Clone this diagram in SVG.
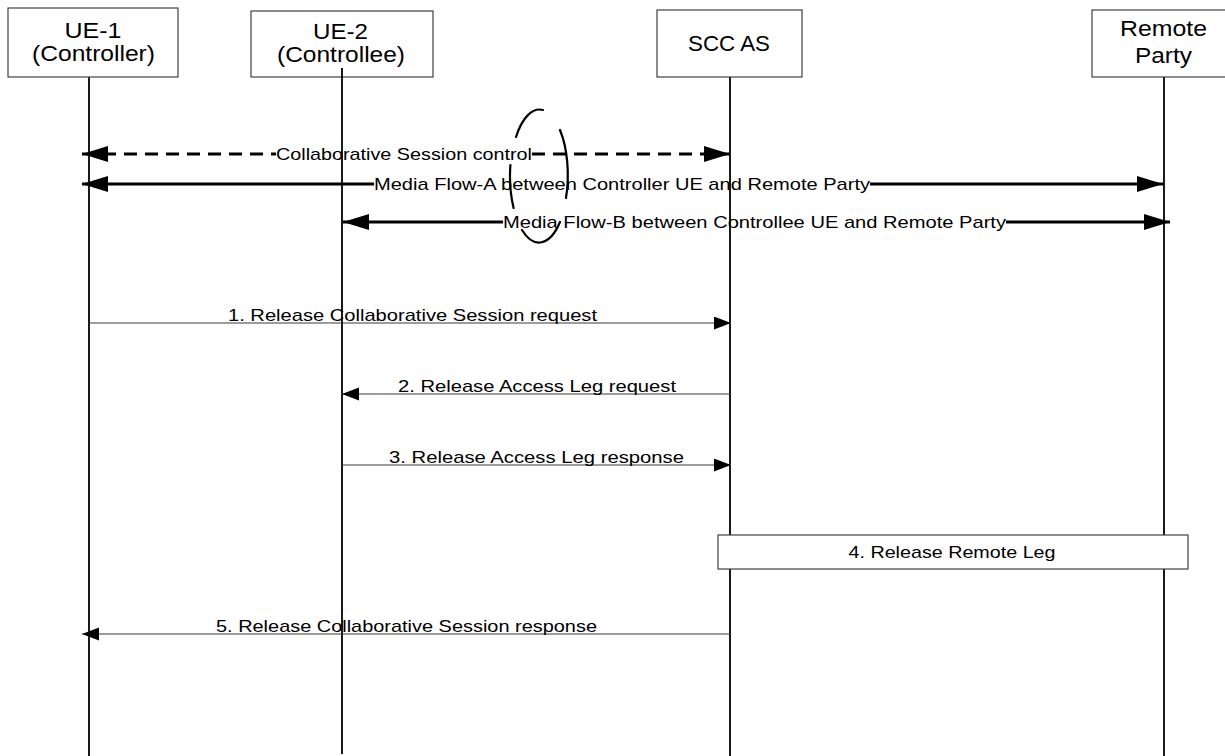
<svg xmlns="http://www.w3.org/2000/svg" width="1225" height="756" viewBox="0 0 1225 756">
  <style>
    .box { fill: #ffffff; stroke: #404040; stroke-width: 1.2; }
    .life { stroke: #000000; stroke-width: 1.8; fill: none; }
    .hdr { font-family: "Liberation Sans", Arial, sans-serif; font-size: 22px; fill: #000; text-anchor: middle; }
    .lbl { font-family: "Liberation Sans", Arial, sans-serif; font-size: 17px; fill: #000; text-anchor: middle; }
    .thick { stroke: #000; stroke-width: 3; fill: none; }
    .dash { stroke: #000; stroke-width: 3; fill: none; stroke-dasharray: 13 8; }
    .thin { stroke: #3a3a3a; stroke-width: 1.2; fill: none; }
    .arc { stroke: #000; stroke-width: 2.2; fill: none; stroke-linecap: round; }
  </style>
  <defs>
    <marker id="big" markerUnits="userSpaceOnUse" markerWidth="28" markerHeight="18" refX="26" refY="8" orient="auto-start-reverse">
      <path d="M0,0 L26,8 L0,16 z" fill="#000"/>
    </marker>
    <marker id="small" markerUnits="userSpaceOnUse" markerWidth="18" markerHeight="14" refX="17" refY="6.5" orient="auto-start-reverse">
      <path d="M0,0 L17,6.5 L0,13 z" fill="#000"/>
    </marker>
  </defs>
  <rect width="1225" height="756" fill="#ffffff"/>

  <g id="lifelines">
    <line class="life" x1="89" y1="77" x2="89" y2="756"/>
    <line class="life" x1="342" y1="68" x2="342" y2="754"/>
    <line class="life" x1="730" y1="77" x2="730" y2="756"/>
    <line class="life" x1="1164" y1="77" x2="1164" y2="756"/>
  </g>

  <g id="ue1">
    <rect class="box" x="8" y="8" width="170" height="69"/>
    <text class="hdr" x="93" y="38" textLength="57" lengthAdjust="spacingAndGlyphs">UE-1</text>
    <text class="hdr" x="93.5" y="61" textLength="123" lengthAdjust="spacingAndGlyphs">(Controller)</text>
  </g>
  <g id="ue2">
    <rect class="box" x="251" y="11" width="182" height="66"/>
    <text class="hdr" x="340.5" y="39" textLength="55" lengthAdjust="spacingAndGlyphs">UE-2</text>
    <text class="hdr" x="341" y="62" textLength="128" lengthAdjust="spacingAndGlyphs">(Controllee)</text>
    <line class="life" x1="342" y1="68" x2="342" y2="78"/>
  </g>
  <g id="sccas">
    <rect class="box" x="657" y="10" width="145" height="67"/>
    <text class="hdr" x="729" y="51" textLength="82" lengthAdjust="spacingAndGlyphs">SCC AS</text>
  </g>
  <g id="remote">
    <rect class="box" x="1092" y="10" width="144" height="67"/>
    <text class="hdr" x="1163.5" y="36" textLength="87" lengthAdjust="spacingAndGlyphs">Remote</text>
    <text class="hdr" x="1163.5" y="63" textLength="57" lengthAdjust="spacingAndGlyphs">Party</text>
  </g>

  <g id="connectors">
    <line class="dash" x1="82" y1="154" x2="276" y2="154" marker-start="url(#big)"/>
    <line class="dash" x1="532" y1="154" x2="730" y2="154" marker-end="url(#big)"/>
    <line class="thick" x1="82" y1="184" x2="374" y2="184" marker-start="url(#big)"/>
    <line class="thick" x1="870" y1="184" x2="1163" y2="184" marker-end="url(#big)"/>
    <line class="thick" x1="343" y1="222" x2="503" y2="222" marker-start="url(#big)"/>
    <line class="thick" x1="1006" y1="222" x2="1170" y2="222" marker-end="url(#big)"/>
    <line class="thin" x1="89" y1="323" x2="731" y2="323" marker-end="url(#small)"/>
    <line class="thin" x1="730" y1="394" x2="342" y2="394" marker-end="url(#small)"/>
    <line class="thin" x1="342" y1="465" x2="731" y2="465" marker-end="url(#small)"/>
    <line class="thin" x1="730" y1="634" x2="82" y2="634" marker-end="url(#small)"/>
  </g>

  <g id="multiplicity">
    <path class="arc" d="M516,137 A29,66 0 0 1 543,110"/>
    <path class="arc" d="M560,130 A29,66 0 0 1 566,198"/>
    <path class="arc" d="M510.4,165 A29,66 0 0 0 513.6,208"/>
    <path class="arc" d="M522,230 A29,66 0 0 0 560,222"/>
  </g>

  <g id="labels">
    <text class="lbl" x="404" y="160" textLength="256" lengthAdjust="spacingAndGlyphs">Collaborative Session control</text>
    <text class="lbl" x="622" y="190" textLength="496" lengthAdjust="spacingAndGlyphs">Media Flow-A between Controller UE and Remote Party</text>
    <text class="lbl" x="754.5" y="228" textLength="503" lengthAdjust="spacingAndGlyphs">Media Flow-B between Controllee UE and Remote Party</text>
    <text class="lbl" x="412.5" y="321" textLength="369" lengthAdjust="spacingAndGlyphs">1. Release Collaborative Session request</text>
    <text class="lbl" x="537" y="392" textLength="278" lengthAdjust="spacingAndGlyphs">2. Release Access Leg request</text>
    <text class="lbl" x="536.5" y="463" textLength="295" lengthAdjust="spacingAndGlyphs">3. Release Access Leg response</text>
    <text class="lbl" x="406.5" y="632" textLength="381" lengthAdjust="spacingAndGlyphs">5. Release Collaborative Session response</text>
  </g>

  <g id="release-remote-leg">
    <rect class="box" x="718" y="535" width="470" height="34"/>
    <text class="lbl" x="952" y="558" textLength="207" lengthAdjust="spacingAndGlyphs">4. Release Remote Leg</text>
  </g>
</svg>
